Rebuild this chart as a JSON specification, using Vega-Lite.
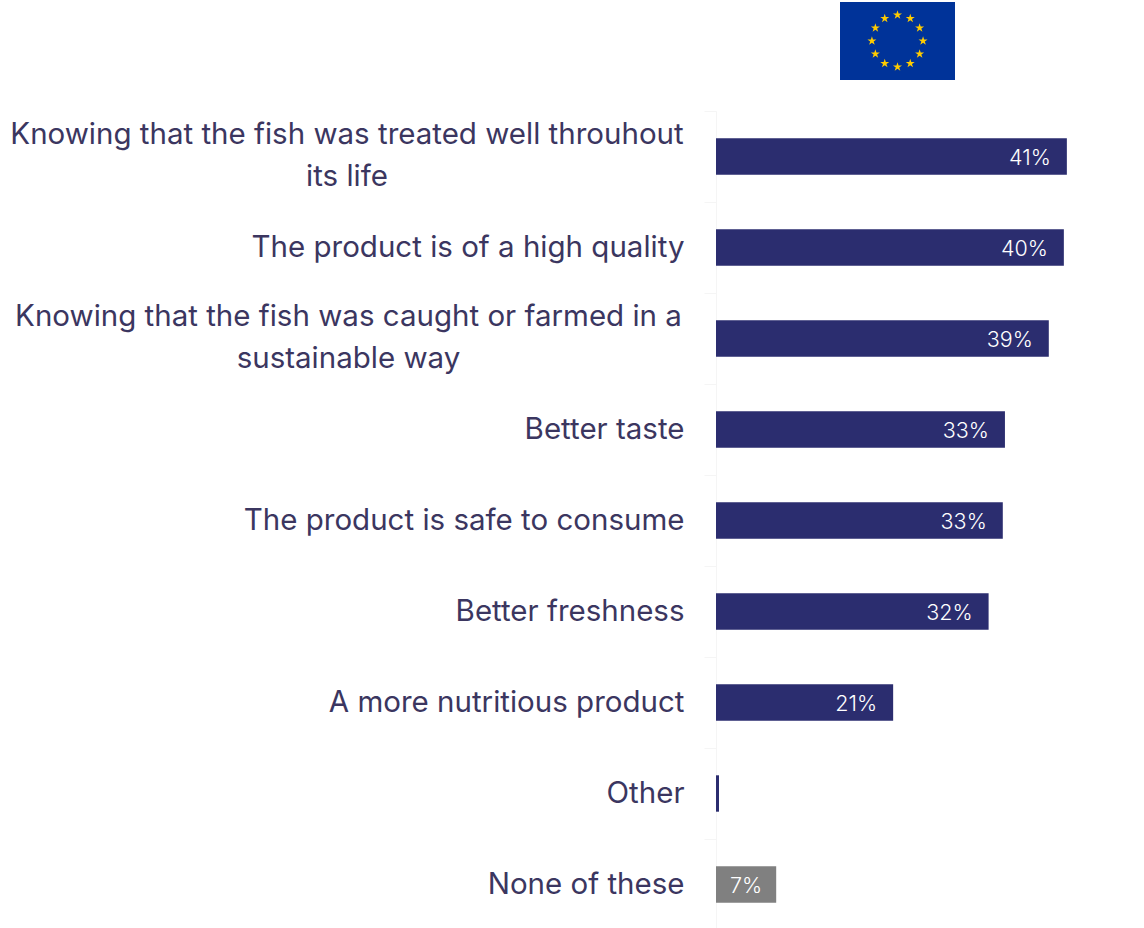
{"$schema":"https://vega.github.io/schema/vega-lite/v6.json","width":428,"height":928,"autosize":{"type":"none"},"padding":{"left":716,"top":0,"right":0,"bottom":0},"background":"#ffffff","config":{"view":{"stroke":null},"font":"Inter"},"datasets":{"bars":[{"item":"Knowing that the fish was treated well throuhout its life","share":40.8,"label":"41%","kind":"answer"},{"item":"The product is of a high quality","share":40.45,"label":"40%","kind":"answer"},{"item":"Knowing that the fish was caught or farmed in a sustainable way","share":38.7,"label":"39%","kind":"answer"},{"item":"Better taste","share":33.6,"label":"33%","kind":"answer"},{"item":"The product is safe to consume","share":33.35,"label":"33%","kind":"answer"},{"item":"Better freshness","share":31.7,"label":"32%","kind":"answer"},{"item":"A more nutritious product","share":20.6,"label":"21%","kind":"answer"},{"item":"Other","share":0.35,"label":"","kind":"answer"},{"item":"None of these","share":7,"label":"7%","kind":"none"}],"flag":[{"x0":0,"x1":3,"y0":0,"y1":2}],"stars":[{"sx":1.5,"sy":1.667},{"sx":1.833,"sy":1.577},{"sx":2.077,"sy":1.333},{"sx":2.167,"sy":1},{"sx":2.077,"sy":0.667},{"sx":1.833,"sy":0.423},{"sx":1.5,"sy":0.333},{"sx":1.167,"sy":0.423},{"sx":0.923,"sy":0.667},{"sx":0.833,"sy":1},{"sx":0.923,"sy":1.333},{"sx":1.167,"sy":1.577}]},"resolve":{"scale":{"x":"independent","y":"independent","color":"independent"},"axis":{"y":"independent","x":"independent"}},"layer":[{"data":{"name":"bars"},"encoding":{"y":{"field":"item","type":"nominal","sort":null,"title":null,"scale":{"domain":["Knowing that the fish was treated well throuhout its life","The product is of a high quality","Knowing that the fish was caught or farmed in a sustainable way","Better taste","The product is safe to consume","Better freshness","A more nutritious product","Other","None of these"],"range":[111,930],"paddingInner":0.6,"paddingOuter":0.3},"axis":{"domainColor":"#f5f5f5","domainWidth":1,"tickColor":"#f5f5f5","tickSize":12,"tickOffset":-45.5,"labelPadding":20,"labelFont":"Inter","labelFontSize":29.5,"labelFontWeight":400,"labelColor":"#3b3660","labelLimit":720,"labelLineHeight":42,"labelOffset":45,"labelAlign":{"condition":{"test":"indexof(datum.value,'Knowing')==0","value":"center"},"value":"right"},"labelExpr":"datum.label == 'Knowing that the fish was treated well throuhout its life' ? ['Knowing that the fish was treated well throuhout','its life'] : datum.label == 'Knowing that the fish was caught or farmed in a sustainable way' ? ['Knowing that the fish was caught or farmed in a','sustainable way'] : datum.label","encoding":{"labels":{"dx":{"value":{"signal":"indexof(datum.value,'treated')>0 ? -337.5 : indexof(datum.value,'caught')>0 ? -336 : 0"}},"dy":{"value":{"signal":"indexof(datum.value,'Knowing')==0 ? -21.5 : 0"}}}}}}},"layer":[{"mark":{"type":"bar"},"encoding":{"x":{"field":"share","type":"quantitative","title":null,"axis":null,"scale":{"domain":[0,49.77],"nice":false,"zero":true}},"color":{"field":"kind","type":"nominal","legend":null,"scale":{"domain":["answer","none"],"range":["#2b2d6f","#808080"]}}}},{"transform":[{"filter":"datum.kind == 'answer'"}],"mark":{"type":"text","align":"right","baseline":"middle","dx":-16,"dy":2,"font":"Inter","fontSize":21.5,"fontWeight":300,"color":"#ffffff"},"encoding":{"x":{"field":"share","type":"quantitative","axis":null},"text":{"field":"label","type":"nominal"}}},{"transform":[{"filter":"datum.kind == 'none'"}],"mark":{"type":"text","align":"right","baseline":"middle","dx":-14,"dy":2,"font":"Inter","fontSize":21.5,"fontWeight":300,"color":"#ffffff"},"encoding":{"x":{"field":"share","type":"quantitative","axis":null},"text":{"field":"label","type":"nominal"}}}]},{"layer":[{"data":{"name":"flag"},"mark":{"type":"rect","color":"#003399"},"encoding":{"x":{"field":"x0","type":"quantitative","axis":null,"scale":{"domain":[0,3],"range":[124,239],"nice":false,"zero":false}},"x2":{"field":"x1"},"y":{"field":"y0","type":"quantitative","axis":null,"scale":{"domain":[0,2],"range":[80,2],"nice":false,"zero":false}},"y2":{"field":"y1"}}},{"data":{"name":"stars"},"mark":{"type":"point","filled":true,"opacity":1,"color":"#ffcc00","size":90,"shape":"M0,-1L0.225,-0.309L0.951,-0.309L0.363,0.118L0.588,0.809L0,0.382L-0.588,0.809L-0.363,0.118L-0.951,-0.309L-0.225,-0.309Z"},"encoding":{"x":{"field":"sx","type":"quantitative","axis":null},"y":{"field":"sy","type":"quantitative","axis":null}}}]}]}
